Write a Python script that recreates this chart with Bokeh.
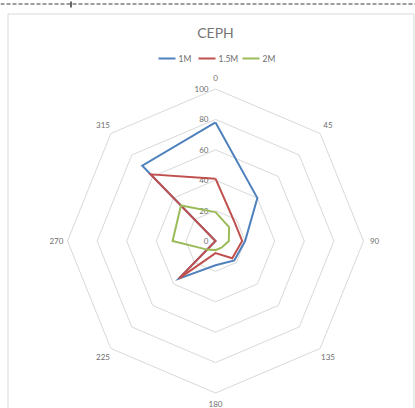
import math
from bokeh.plotting import figure
from bokeh.models import Range1d
from bokeh.core.properties import value
from bokeh.embed import file_html
from bokeh.resources import INLINE

# ---- data ----
categories = ["0", "45", "90", "135", "180", "225", "270", "315"]
series_names = ["1M", "1.5M", "2M"]
s_1m = [78, 40, 20, 18, 16, 35, 0, 70]
s_15m = [41, 18, 18, 16, 8, 35, 0, 62]
s_2m = [19, 13, 9, 6, 6, 8, 29, 33]
ring_ticks = [0, 20, 40, 60, 80, 100]
title_text = "CEPH"

# ---- layout / style ----
CX, CY = 215, 240.5
RX, RY = 148 / 100.0, 152 / 100.0
FONT = "Lato"
colors = ["#4F81BD", "#C0504D", "#9BBB59"]
GRID = "#D9D9D9"
TXT = "#6E6E6E"

p = figure(width=415, height=408, x_range=Range1d(0, 415), y_range=Range1d(408, 0),
           output_backend="svg", toolbar_location=None, min_border=0)
p.axis.visible = False
p.grid.visible = False
p.outline_line_color = None
p.background_fill_color = "white"

n = len(categories)

def pt(v, i):
    a = math.radians(float(categories[i % n]))
    return CX + v * RX * math.sin(a), CY - v * RY * math.cos(a)

# selection marks at the very top of the picture
p.line(x=[0, 415], y=[3.5, 3.5], line_color="#3A3A3A", line_width=1, line_dash="4 2")
p.line(x=[70.5, 70.5], y=[1, 7], line_color="#3A3A3A", line_width=1.5)

# chart frame
p.line(x=[7.5, 7.5, 413.5, 413.5], y=[420, 13.5, 13.5, 420], line_color=GRID, line_width=1)

# rings
for t in ring_ticks[1:]:
    pts = [pt(t, i) for i in range(n + 1)]
    p.line(x=[q[0] for q in pts], y=[q[1] for q in pts], line_color=GRID, line_width=1)

# ring labels
ly = [pt(t, 0)[1] for t in ring_ticks]
p.text(x=[208] * len(ring_ticks), y=ly, text=[str(t) for t in ring_ticks], text_align="right",
       text_baseline="middle", text_font=value(FONT), text_font_size="8px", text_color=TXT)

# category labels
cl = [pt(107.5, i) for i in range(n)]
p.text(x=[c[0] for c in cl], y=[c[1] for c in cl], text=categories, text_align="center",
       text_baseline="middle", text_font=value(FONT), text_font_size="8px", text_color=TXT)

# series
for vals, col in zip([s_1m, s_15m, s_2m], colors):
    pts = [pt(vals[i % n], i) for i in range(n + 1)]
    p.line(x=[q[0] for q in pts], y=[q[1] for q in pts], line_color=col, line_width=2,
           line_join="miter")

# title
p.text(x=[215], y=[32], text=[title_text], text_align="center", text_baseline="middle",
       text_font=value(FONT), text_font_size="14px", text_color="#757575")

# legend
leg_x = [158, 198, 242]
for name, col, x0 in zip(series_names, colors, leg_x):
    p.line(x=[x0, x0 + 17], y=[58, 58], line_color=col, line_width=2)
    p.text(x=[x0 + 20], y=[58], text=[name], text_align="left", text_baseline="middle",
           text_font=value(FONT), text_font_size="8.5px", text_color=TXT)

open("out.html", "w").write(file_html(p, INLINE))
